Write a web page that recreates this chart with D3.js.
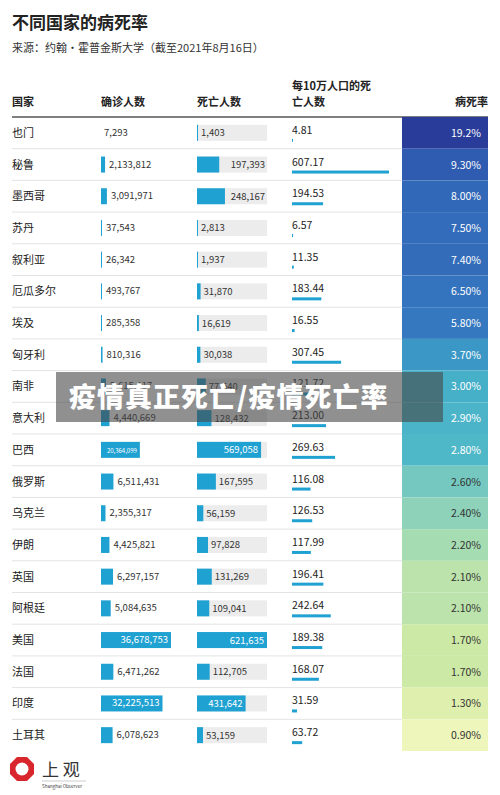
<!DOCTYPE html><html><head><meta charset="utf-8"><script src="https://cdn.jsdelivr.net/npm/d3@7"></script>
<style>body{margin:0;background:#fff;font-family:"Noto Sans CJK SC","Noto Sans",sans-serif}</style></head><body><svg id="c" width="500" height="795"></svg>
<script>
const countries=["也门","秘鲁","墨西哥","苏丹","叙利亚","厄瓜多尔","埃及","匈牙利","南非","意大利","巴西","俄罗斯","乌克兰","伊朗","英国","阿根廷","美国","法国","印度","土耳其"];
const confirmed=[7293,2133812,3091971,37543,26342,493767,285358,810316,2615417,4440669,20364099,6511431,2355317,4425821,6297157,5084635,36678753,6471262,32225513,6078623];
const deaths=[1403,197393,248167,2813,1937,31870,16619,30038,77540,128432,569058,167595,56159,97828,131269,109041,621635,112705,431642,53159];
const per100k=[4.81,607.17,194.53,6.57,11.35,183.44,16.55,307.45,121.72,213.00,269.63,116.08,126.53,117.99,196.41,242.64,189.38,168.07,31.59,63.72];
const rate=[19.2,9.30,8.00,7.50,7.40,6.50,5.80,3.70,3.00,2.90,2.80,2.60,2.40,2.20,2.10,2.10,1.70,1.70,1.30,0.90];
const rateLabels=["19.2%","9.30%","8.00%","7.50%","7.40%","6.50%","5.80%","3.70%","3.00%","2.90%","2.80%","2.60%","2.40%","2.20%","2.10%","2.10%","1.70%","1.70%","1.30%","0.90%"];
const headers=["国家","确诊人数","死亡人数","每10万人口的死|亡人数","病死率"];
const fmt=d3.format(",");
const svg=d3.select("#c");
svg.append("text").attr("x",12).attr("y",29).attr("font-size",17).attr("font-weight",700).attr("fill","#222").text("不同国家的病死率");
svg.append("text").attr("x",12).attr("y",52).attr("font-size",11).attr("fill","#333").text("来源：约翰·霍普金斯大学（截至2021年8月16日）");
const y=d3.scaleBand().domain(countries).range([117,751]);
const xc=d3.scaleLinear().domain([0,36678753]).range([0,70]);
const xd=d3.scaleLinear().domain([0,621635]).range([0,70]);
const xp=d3.scaleLinear().domain([0,607.17]).range([0,97]);
const col=d3.scaleLinear().domain([0.9,1.3,1.7,2.1,2.2,2.4,2.6,2.8,3.0,3.7,5.8,7.5,9.3,19.2])
 .range(["#eef6bb","#dff0ae","#cde9a6","#bbe3ab","#a6dcb1","#8dd2b9","#74c8bf","#4fb8c8","#46b0c9","#3b98c6","#3578bf","#336cba","#2f5cb1","#293c9a"]);
const hx=[12,101,197,292,488];
headers.forEach((h,i)=>{const p=h.split("|");p.forEach((t,j)=>svg.append("text").attr("x",hx[i]).attr("y",p.length>1?90+j*16:106).attr("text-anchor",i==4?"end":"start").attr("font-size",11).attr("font-weight",700).attr("fill","#222").text(t));});
svg.append("line").attr("x1",12).attr("x2",488).attr("y1",117).attr("y2",117).attr("stroke","#555").attr("stroke-width",1.5);
const bh=16;
countries.forEach((c,i)=>{
 const y0=y(c),cy=y0+y.bandwidth()/2;
 svg.append("rect").attr("x",402).attr("y",y0).attr("width",86).attr("height",y.bandwidth()).attr("fill",col(rate[i]));
 svg.append("text").attr("x",481).attr("y",cy+4).attr("text-anchor","end").attr("font-size",10.5).attr("fill",rate[i]>=2.8?"#fff":"#333").text(rateLabels[i]);
 if(i<countries.length-1) svg.append("line").attr("x1",12).attr("x2",402).attr("y1",y0+y.bandwidth()).attr("y2",y0+y.bandwidth()).attr("stroke","#e3e3e3");
 svg.append("text").attr("x",12).attr("y",cy+4).attr("font-size",11).attr("fill","#222").text(c);
 const wc=Math.max(1,xc(confirmed[i]));
 if(i>0) svg.append("rect").attr("x",101).attr("y",cy-bh/2).attr("width",wc).attr("height",bh).attr("fill","#1fa1d2");
 const inC=wc>30;
 svg.append("text").attr("x",inC?101+wc-3:(i>0?101+wc+4:104)).attr("y",cy+3).attr("text-anchor",inC?"end":"start").attr("font-size",inC&&wc<50?6:9.5).attr("fill",inC?"#fff":"#333").text(fmt(confirmed[i]));
 svg.append("rect").attr("x",197).attr("y",cy-bh/2).attr("width",70).attr("height",bh).attr("fill","#ececec");
 const wd=Math.max(1,xd(deaths[i]));
 svg.append("rect").attr("x",197).attr("y",cy-bh/2).attr("width",wd).attr("height",bh).attr("fill","#1fa1d2");
 const inD=wd>45;
 svg.append("text").attr("x",inD?197+wd-3:(wd>20?265:197+wd+3)).attr("y",cy+3.5).attr("text-anchor",inD||wd>20?"end":"start").attr("font-size",9.5).attr("fill",inD?"#fff":"#333").text(fmt(deaths[i]));
 svg.append("text").attr("x",292).attr("y",cy+1).attr("font-size",10.5).attr("fill","#222").text(per100k[i].toFixed(2));
 svg.append("rect").attr("x",292).attr("y",cy+6).attr("width",Math.max(1,xp(per100k[i]))).attr("height",3).attr("fill","#1fa1d2");
});
svg.append("rect").attr("x",56).attr("y",372).attr("width",387).attr("height",50).attr("fill","rgba(70,70,70,0.6)");
svg.append("text").attr("x",69).attr("y",407).attr("font-size",27).attr("font-weight",900).attr("letter-spacing",1).attr("fill","#fff").text("疫情真正死亡/疫情死亡率");
const g=svg.append("g").attr("transform","translate(22,769)");
const hex=d3.range(8).map(k=>[13*Math.cos(k*Math.PI/4+Math.PI/8),13*Math.sin(k*Math.PI/4+Math.PI/8)]);
g.append("path").attr("d","M"+hex.join("L")+"Z").attr("fill","#d8262c");
g.append("circle").attr("r",6.5).attr("fill","#fff");
svg.append("text").attr("x",42).attr("y",776).attr("font-size",17).attr("fill","#333").text("上 观");
svg.append("line").attr("x1",42).attr("x2",86).attr("y1",781).attr("y2",781).attr("stroke","#999").attr("stroke-width",0.5);
svg.append("text").attr("x",42).attr("y",788).attr("font-size",4.5).attr("fill","#444").text("Shanghai Observer");
</script></body></html>
